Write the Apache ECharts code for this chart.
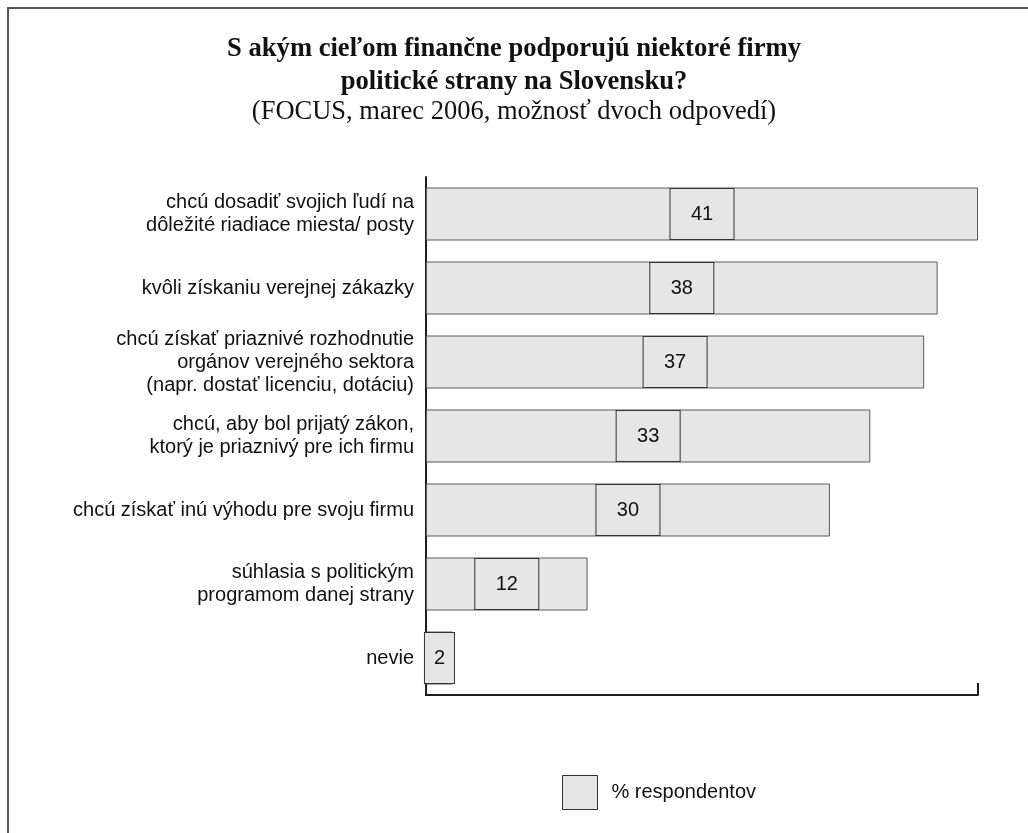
<!DOCTYPE html>
<html>
<head>
<meta charset="utf-8">
<title>S akým cieľom finančne podporujú niektoré firmy politické strany na Slovensku?</title>
<script src="https://cdn.jsdelivr.net/npm/echarts@6/dist/echarts.min.js"></script>
<style>
  html, body { margin: 0; padding: 0; background: #fff; }
  #chart { width: 1028px; height: 833px; }
</style>
</head>
<body>
<div id="chart"></div>
<script>
// Survey answers (FOCUS, March 2006), top to bottom
const categories = [
  'chcú dosadiť svojich ľudí na\ndôležité riadiace miesta/ posty',
  'kvôli získaniu verejnej zákazky',
  'chcú získať priaznivé rozhodnutie\norgánov verejného sektora\n(napr. dostať licenciu, dotáciu)',
  'chcú, aby bol prijatý zákon,\nktorý je priaznivý pre ich firmu',
  'chcú získať inú výhodu pre svoju firmu',
  'súhlasia s politickým\nprogramom danej strany',
  'nevie'
];
const respondents = [41, 38, 37, 33, 30, 12, 2];
const seriesName = '% respondentov';
const titleLines = ['S akým cieľom finančne podporujú niektoré firmy', 'politické strany na Slovensku?'];
const subtitle = '(FOCUS, marec 2006, možnosť dvoch odpovedí)';

const barFill = '#e6e6e6';
const darkLine = '#1e1e1e';
const sansFont = '"Liberation Sans", Arial, sans-serif';
const serifFont = '"Liberation Serif", "Times New Roman", serif';

const chart = echarts.init(document.getElementById('chart'), null, { renderer: 'canvas' });

// very short bars get a value box that fits inside the bar
const barData = respondents.map(v => v < 5
  ? { value: v, label: { width: 29 } }
  : { value: v });

chart.setOption({
  animation: false,
  backgroundColor: '#fff',
  title: [{
    text: titleLines.join('\n'),
    left: 'center',
    top: 28,
    textStyle: {
      fontFamily: serifFont,
      fontWeight: 'bold',
      fontSize: 26.6,
      lineHeight: 33,
      color: '#111'
    }
  }, {
    text: subtitle,
    left: 'center',
    top: 94,
    textStyle: {
      fontFamily: serifFont,
      fontWeight: 'normal',
      fontSize: 26.5,
      color: '#111'
    }
  }],
  legend: {
    left: 557,
    top: 770,
    icon: 'rect',
    itemWidth: 35,
    itemHeight: 34,
    itemStyle: { color: barFill, borderColor: '#333', borderWidth: 1 },
    textStyle: {
      fontFamily: sansFont,
      fontSize: 20,
      color: '#111',
      padding: [0, 0, 0, 9]
    },
    data: [seriesName]
  },
  grid: { left: 426, right: 50, top: 177, bottom: 138, containLabel: false },
  xAxis: {
    type: 'value',
    min: 0,
    max: 41,
    interval: 41,
    axisLine: { show: true, lineStyle: { color: darkLine, width: 2 } },
    axisTick: { show: true, inside: true, length: 12, lineStyle: { color: darkLine, width: 2 } },
    axisLabel: { show: false },
    splitLine: { show: false }
  },
  yAxis: {
    type: 'category',
    inverse: true,
    data: categories,
    axisLine: { show: true, lineStyle: { color: darkLine, width: 2 } },
    axisTick: { show: false },
    axisLabel: {
      margin: 12,
      fontFamily: sansFont,
      fontSize: 20,
      lineHeight: 23,
      color: '#111',
      align: 'right'
    }
  },
  series: [{
    name: seriesName,
    type: 'bar',
    data: barData,
    barWidth: 53,
    itemStyle: { color: barFill, borderColor: '#5a5a5a', borderWidth: 1 },
    label: {
      show: true,
      position: 'inside',
      fontFamily: sansFont,
      fontSize: 20,
      color: '#111',
      backgroundColor: barFill,
      borderColor: '#333',
      borderWidth: 1,
      width: 63,
      height: 50,
      lineHeight: 50,
      align: 'center',
      verticalAlign: 'middle',
      padding: 0
    }
  }],
  graphic: [{
    type: 'polyline',
    silent: true,
    shape: { points: [[8, 833], [8, 8], [1028, 8]] },
    style: { stroke: '#555', lineWidth: 2, fill: null }
  }]
});
</script>
</body>
</html>
